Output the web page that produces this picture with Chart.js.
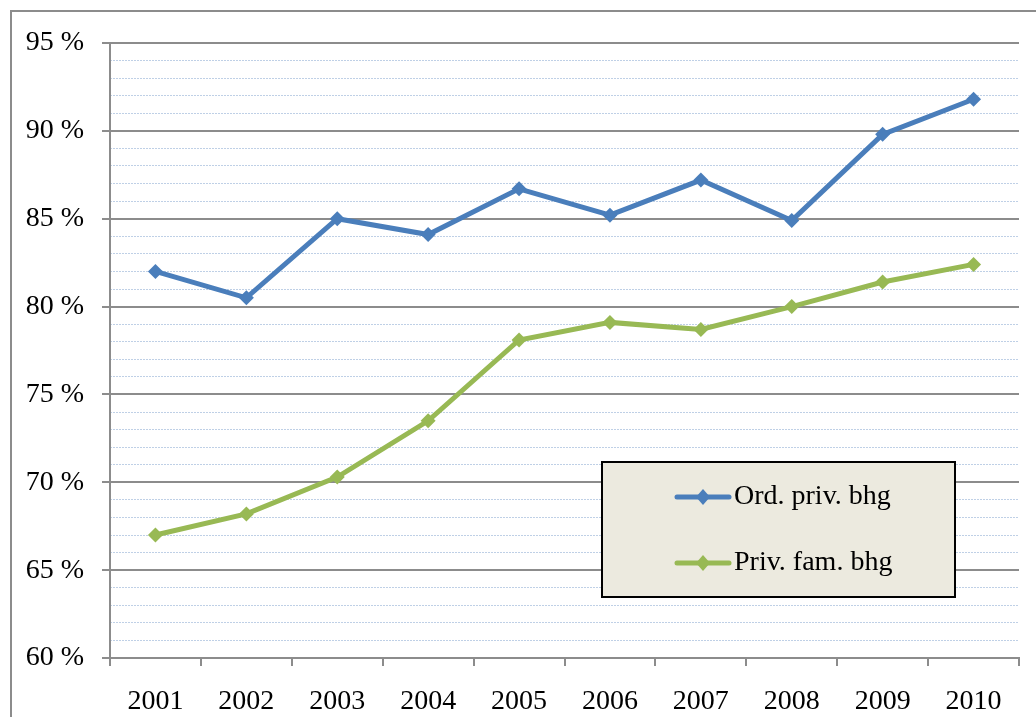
<!DOCTYPE html>
<html lang="no">
<head>
    <meta charset="UTF-8">
    <title>Ord. priv. bhg / Priv. fam. bhg</title>
    <script src="https://cdn.jsdelivr.net/npm/chart.js"></script>
    <style>
        html, body { margin: 0; padding: 0; background: #fff; }
        #wrap { width: 1036px; height: 717px; position: relative; }
    </style>
</head>
<body>
    <div id="wrap"><canvas id="myChart" width="1036" height="717"></canvas></div>

    <script>
        // data
        const years = ['2001', '2002', '2003', '2004', '2005', '2006', '2007', '2008', '2009', '2010'];
        const ordPriv = [82.0, 80.5, 85.0, 84.1, 86.7, 85.2, 87.2, 84.9, 89.8, 91.8];
        const privFam = [67.0, 68.2, 70.3, 73.5, 78.1, 79.1, 78.7, 80.0, 81.4, 82.4];
        const seriesNames = ['Ord. priv. bhg', 'Priv. fam. bhg'];

        const BLUE = '#4a7ebb';
        const GREEN = '#98b954';
        const AXIS = '#8c8c8c';
        const FONT = "'Liberation Serif', 'DejaVu Serif', serif";

        // outer frame + boxed legend
        const framePlugin = {
            id: 'frame',
            beforeDraw(chart) {
                const c = chart.ctx;
                c.save();
                c.strokeStyle = AXIS;
                c.lineWidth = 2;
                c.beginPath();
                c.moveTo(11, chart.height);
                c.lineTo(11, 11);
                c.lineTo(chart.width, 11);
                c.stroke();
                c.restore();
            },
            afterDraw(chart) {
                const c = chart.ctx;
                const bx = 602, by = 462, bw = 353, bh = 135;
                c.save();
                c.fillStyle = '#eceadf';
                c.fillRect(bx, by, bw, bh);
                c.strokeStyle = '#000';
                c.lineWidth = 2;
                c.strokeRect(bx, by, bw, bh);
                chart.data.datasets.forEach((ds, i) => {
                    const y = by + 35 + i * 66;
                    c.strokeStyle = ds.borderColor;
                    c.lineWidth = 5;
                    c.lineCap = 'round';
                    c.beginPath();
                    c.moveTo(677, y);
                    c.lineTo(729, y);
                    c.stroke();
                    c.fillStyle = ds.borderColor;
                    c.beginPath();
                    c.moveTo(703, y - 8);
                    c.lineTo(710, y);
                    c.lineTo(703, y + 8);
                    c.lineTo(696, y);
                    c.closePath();
                    c.fill();
                    c.fillStyle = '#000';
                    c.font = '28px ' + FONT;
                    c.textBaseline = 'middle';
                    c.textAlign = 'left';
                    c.fillText(ds.label, 734, y);
                });
                c.restore();
            }
        };

        const ctx = document.getElementById('myChart').getContext('2d');

        const myChart = new Chart(ctx, {
            type: 'line',
            data: {
                labels: years,
                datasets: [{
                    label: seriesNames[0],
                    data: ordPriv,
                    borderColor: BLUE,
                    backgroundColor: BLUE,
                    borderWidth: 5,
                    pointStyle: 'rectRot',
                    pointRadius: 7.5,
                    pointBorderWidth: 0,
                    tension: 0
                }, {
                    label: seriesNames[1],
                    data: privFam,
                    borderColor: GREEN,
                    backgroundColor: GREEN,
                    borderWidth: 5,
                    pointStyle: 'rectRot',
                    pointRadius: 7.5,
                    pointBorderWidth: 0,
                    tension: 0
                }]
            },
            options: {
                responsive: false,
                animation: false,
                layout: { padding: { top: 43, right: 17, left: 0, bottom: 0 } },
                plugins: {
                    legend: { display: false },
                    tooltip: { enabled: false }
                },
                scales: {
                    x: {
                        offset: true,
                        grid: {
                            offset: true,
                            drawOnChartArea: false,
                            color: AXIS,
                            lineWidth: 2,
                            tickLength: 8
                        },
                        border: { color: AXIS, width: 2 },
                        ticks: {
                            color: '#000',
                            font: { family: FONT, size: 28 },
                            padding: 19,
                            maxRotation: 0
                        },
                        afterFit(scale) { scale.height = 59; }
                    },
                    y2: {
                        position: 'left',
                        min: 60,
                        max: 95,
                        ticks: { display: false, stepSize: 1 },
                        grid: {
                            drawTicks: false,
                            lineWidth: 1,
                            color: (c) => (c.tick && c.tick.value % 5 === 0) ? 'rgba(0,0,0,0)' : '#bfd0e6'
                        },
                        border: { display: false, dash: [2, 1] },
                        afterFit(scale) { scale.width = 0; }
                    },
                    y: {
                        position: 'left',
                        min: 60,
                        max: 95,
                        ticks: {
                            stepSize: 5,
                            color: '#000',
                            font: { family: FONT, size: 28 },
                            padding: 18,
                            callback: (v) => v + ' %'
                        },
                        grid: {
                            color: AXIS,
                            lineWidth: 2,
                            tickLength: 8
                        },
                        border: { color: AXIS, width: 2 },
                        afterFit(scale) { scale.width = 110; }
                    }
                }
            },
            plugins: [framePlugin]
        });
    </script>
</body>
</html>
